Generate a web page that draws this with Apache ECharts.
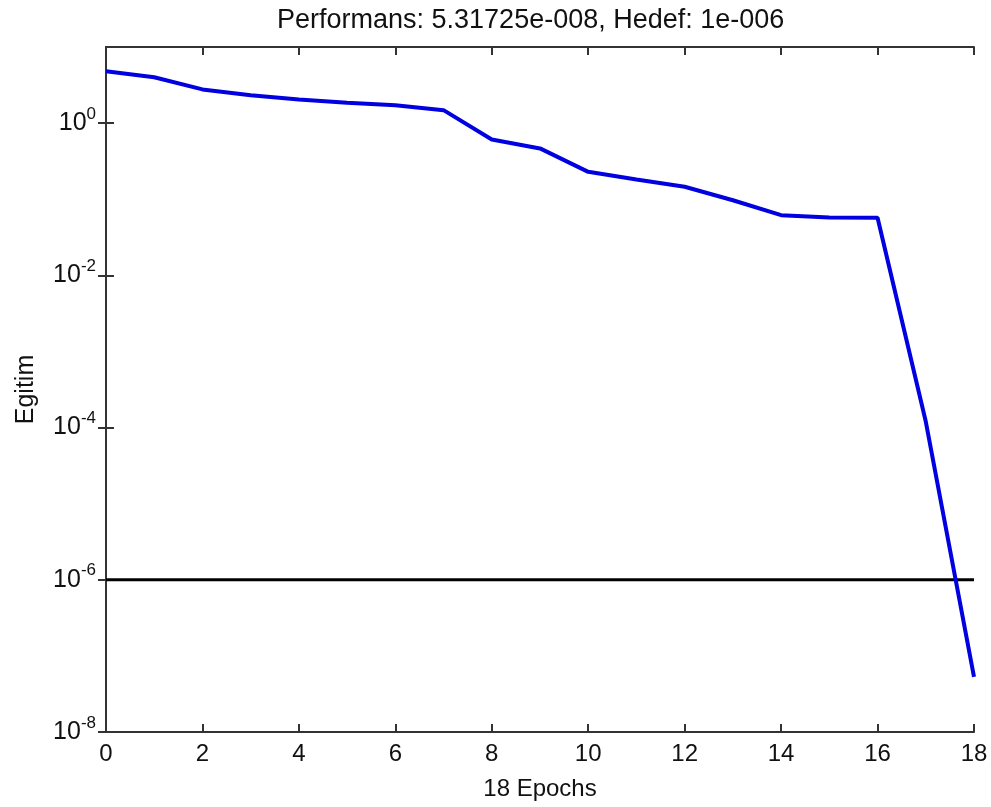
<!DOCTYPE html>
<html>
<head>
<meta charset="utf-8">
<script src="https://cdn.jsdelivr.net/npm/echarts@6/dist/echarts.min.js"></script>
<style>
  html, body { margin: 0; padding: 0; background: #fff; }
  #chart { width: 991px; height: 807px; }
</style>
</head>
<body>
<div id="chart"></div>
<script>
// veriler
const epochs = [0, 1, 2, 3, 4, 5, 6, 7, 8, 9, 10, 11, 12, 13, 14, 15, 16, 17, 18]
const egitim = [4.8, 4.0, 2.77, 2.33, 2.05, 1.85, 1.72, 1.48, 0.61, 0.465, 0.229, 0.182, 0.146, 0.097, 0.0618, 0.0576, 0.057, 1.2e-4, 5.31725e-8]
const hedefX = [0, 18]
const hedefY = [1e-6, 1e-6]
const yTicks = [1e-8, 1e-6, 1e-4, 1e-2, 1]
const baslik = 'Performans: 5.31725e-008, Hedef: 1e-006'

const font = 'Liberation Sans, Arial, sans-serif'
const axisColor = '#333'

const chart = echarts.init(document.getElementById('chart'))

const supLabel = (v) => {
  const e = Math.round(Math.log10(v))
  return '{b|10}{s|' + e + '}'
}

const option = {
  backgroundColor: '#fff',
  animation: false,
  title: {
    text: baslik,
    left: 272,
    top: 2,
    textStyle: { fontFamily: font, fontSize: 27, fontWeight: 'normal', color: '#111' }
  },
  grid: { left: 106, right: 17, top: 47, bottom: 75 },
  xAxis: [
    {
      type: 'value',
      min: 0,
      max: 18,
      interval: 2,
      name: '18 Epochs',
      nameLocation: 'middle',
      nameGap: 45,
      nameTextStyle: { fontFamily: font, fontSize: 24, color: '#111' },
      axisLine: { lineStyle: { color: axisColor, width: 2 } },
      axisTick: { inside: true, length: 8, lineStyle: { color: axisColor, width: 2 } },
      axisLabel: { fontFamily: font, fontSize: 24, color: '#111', margin: 10 },
      splitLine: { show: false }
    },
    {
      type: 'value',
      position: 'top',
      min: 0,
      max: 18,
      interval: 2,
      axisLine: { lineStyle: { color: axisColor, width: 2 } },
      axisTick: { inside: true, length: 8, lineStyle: { color: axisColor, width: 2 } },
      axisLabel: { show: false },
      splitLine: { show: false }
    }
  ],
  yAxis: [
    {
      type: 'log',
      logBase: 10,
      min: 1e-8,
      max: 10,
      name: 'Egitim',
      nameLocation: 'middle',
      nameGap: 67,
      nameRotate: 90,
      nameTextStyle: { fontFamily: font, fontSize: 25, color: '#111' },
      axisLine: { show: true, lineStyle: { color: axisColor, width: 2 } },
      axisTick: { show: true, inside: true, length: 8, customValues: yTicks, lineStyle: { color: axisColor, width: 2 } },
      axisLabel: {
        margin: 10,
        customValues: yTicks,
        formatter: supLabel,
        rich: {
          b: { fontFamily: font, fontSize: 25, color: '#111' },
          s: { fontFamily: font, fontSize: 17, color: '#111', padding: [0, 0, 18, 0] }
        }
      },
      splitLine: { show: false }
    },
    {
      type: 'log',
      logBase: 10,
      position: 'right',
      min: 1e-8,
      max: 10,
      axisLine: { show: true, lineStyle: { color: axisColor, width: 2 } },
      axisTick: { show: true, inside: true, length: 8, customValues: yTicks, lineStyle: { color: axisColor, width: 2 } },
      axisLabel: { show: false },
      splitLine: { show: false }
    }
  ],
  series: [
    {
      name: 'Hedef',
      type: 'line',
      data: hedefX.map((x, i) => [x, hedefY[i]]),
      symbol: 'none',
      lineStyle: { color: '#000', width: 3 },
      z: 2
    },
    {
      name: 'Egitim',
      type: 'line',
      data: epochs.map((x, i) => [x, egitim[i]]),
      symbol: 'none',
      lineStyle: { color: '#0000e0', width: 4 },
      z: 3
    }
  ]
}

chart.setOption(option)
</script>
</body>
</html>
